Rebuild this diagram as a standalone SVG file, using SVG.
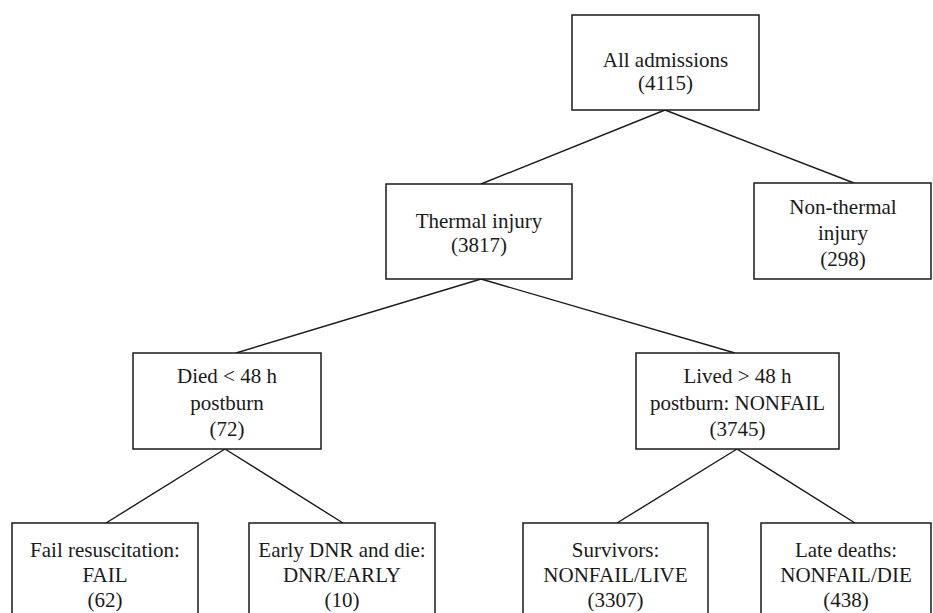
<svg xmlns="http://www.w3.org/2000/svg" width="933" height="613" viewBox="0 0 933 613">
<style>
  .box { fill: #ffffff; stroke: #1a1a1a; stroke-width: 1.5; }
  .lbl { font-family: 'Liberation Serif', 'DejaVu Serif', 'Times New Roman', Times, serif; font-size: 21px; fill: #1a1a1a; text-anchor: middle; }
  .conn line { stroke: #1a1a1a; stroke-width: 1.4; }
</style>
<rect x="0" y="0" width="933" height="613" fill="#ffffff"/>
<g id="connectors" class="conn">
  <line x1="665" y1="110" x2="481" y2="184"/>
  <line x1="665" y1="110" x2="854" y2="183"/>
  <line x1="481" y1="279" x2="236" y2="353"/>
  <line x1="481" y1="279" x2="735" y2="353"/>
  <line x1="225" y1="449" x2="106" y2="523"/>
  <line x1="225" y1="449" x2="343" y2="523"/>
  <line x1="737" y1="449" x2="617" y2="523"/>
  <line x1="737" y1="449" x2="855" y2="523"/>
</g>
<g font-family="Liberation Serif, DejaVu Serif, serif" font-size="21">
<g id="all-admissions">
  <rect class="box" x="572" y="15" width="187" height="95"/>
  <text class="lbl" x="665.5" y="67">All admissions</text>
  <text class="lbl" x="665.5" y="90">(4115)</text>
</g>
<g id="thermal-injury">
  <rect class="box" x="386" y="184" width="186" height="95"/>
  <text class="lbl" x="479" y="228">Thermal injury</text>
  <text class="lbl" x="479" y="252">(3817)</text>
</g>
<g id="non-thermal-injury">
  <rect class="box" x="754" y="183" width="177" height="96"/>
  <text class="lbl" x="843" y="214">Non-thermal</text>
  <text class="lbl" x="843" y="240">injury</text>
  <text class="lbl" x="843" y="266">(298)</text>
</g>
<g id="died-48h">
  <rect class="box" x="133" y="353" width="188" height="96"/>
  <text class="lbl" x="227" y="383">Died &lt; 48 h</text>
  <text class="lbl" x="227" y="410">postburn</text>
  <text class="lbl" x="227" y="436">(72)</text>
</g>
<g id="lived-48h">
  <rect class="box" x="636" y="353" width="203" height="96"/>
  <text class="lbl" x="737.5" y="383">Lived &gt; 48 h</text>
  <text class="lbl" x="737.5" y="410">postburn: NONFAIL</text>
  <text class="lbl" x="737.5" y="436">(3745)</text>
</g>
<g id="fail">
  <rect class="box" x="12" y="523" width="186" height="100"/>
  <text class="lbl" x="105" y="557">Fail resuscitation:</text>
  <text class="lbl" x="105" y="582">FAIL</text>
  <text class="lbl" x="105" y="607">(62)</text>
</g>
<g id="dnr-early">
  <rect class="box" x="249" y="523" width="186" height="100"/>
  <text class="lbl" x="342" y="557">Early DNR and die:</text>
  <text class="lbl" x="342" y="582">DNR/EARLY</text>
  <text class="lbl" x="342" y="607">(10)</text>
</g>
<g id="survivors">
  <rect class="box" x="523" y="523" width="185" height="100"/>
  <text class="lbl" x="615.5" y="557">Survivors:</text>
  <text class="lbl" x="615.5" y="582">NONFAIL/LIVE</text>
  <text class="lbl" x="615.5" y="607">(3307)</text>
</g>
<g id="late-deaths">
  <rect class="box" x="761" y="523" width="170" height="100"/>
  <text class="lbl" x="846" y="557">Late deaths:</text>
  <text class="lbl" x="846" y="582">NONFAIL/DIE</text>
  <text class="lbl" x="846" y="607">(438)</text>
</g>
</g>
</svg>
